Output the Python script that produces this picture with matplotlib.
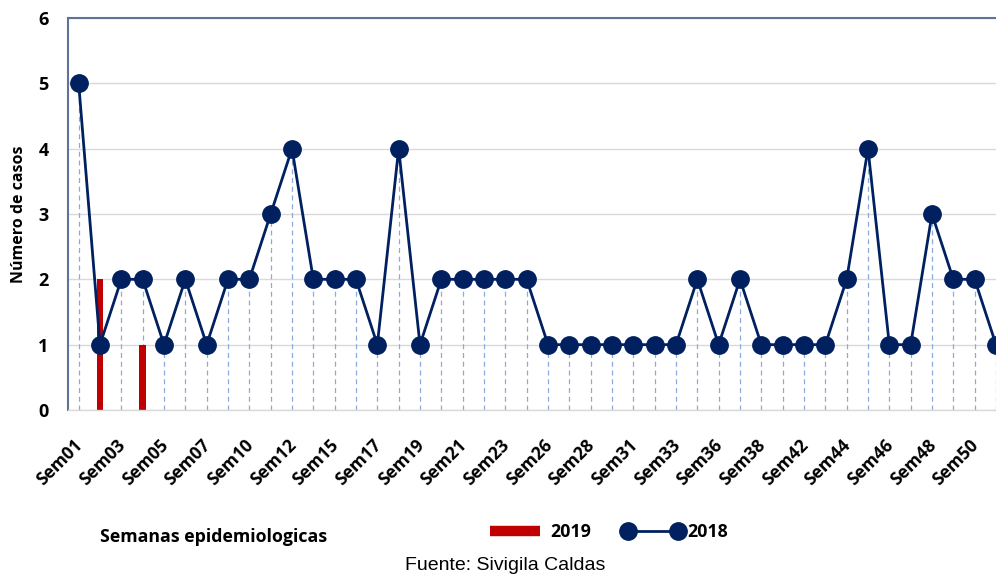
import matplotlib
matplotlib.use("Agg")
import matplotlib.pyplot as plt
import matplotlib.transforms as mtransforms
from matplotlib.lines import Line2D
import numpy as np

weeks = ["Sem01", "Sem02", "Sem03", "Sem04", "Sem05", "Sem06", "Sem07", "Sem08",
         "Sem10", "Sem11", "Sem12", "Sem13", "Sem15", "Sem16", "Sem17", "Sem18",
         "Sem19", "Sem20", "Sem21", "Sem22", "Sem23", "Sem24", "Sem26", "Sem27",
         "Sem28", "Sem29", "Sem31", "Sem32", "Sem33", "Sem34", "Sem36", "Sem37",
         "Sem38", "Sem40", "Sem42", "Sem43", "Sem44", "Sem45", "Sem46", "Sem47",
         "Sem48", "Sem49", "Sem50", "Sem51"]
cases_2018 = [5, 1, 2, 2, 1, 2, 1, 2, 2, 3, 4, 2, 2, 2, 1, 4, 1, 2, 2, 2, 2, 2,
              1, 1, 1, 1, 1, 1, 1, 2, 1, 2, 1, 1, 1, 1, 2, 4, 1, 1, 3, 2, 2, 1]
cases_2019 = [0, 2, 0, 1] + [0] * 40

navy = "#002060"
red = "#C00000"
frame = "#5F7399"

fig = plt.figure(figsize=(9.96, 5.77), dpi=100)
ax = fig.add_axes([68 / 996, 1 - 410 / 577, 1 - 68 / 996, (410 - 18) / 577])

x = np.arange(len(weeks))
ax.vlines(x, 0, cases_2018, colors="#8EA9DB", linestyles=(0, (4, 3)), linewidth=0.9, zorder=1)
ax.bar(x, cases_2019, width=0.3, color=red, zorder=2, label="2019")
ax.plot(x, cases_2018, color=navy, linewidth=2.0, marker="o", markersize=12.5,
        zorder=3, label="2018", clip_on=True)

ax.set_xlim(-0.5, len(weeks) - 1)
ax.set_ylim(0, 6)
ax.set_yticks(range(0, 7))
ax.yaxis.grid(True, color="#D9D9D9", linewidth=1.0)
ax.set_axisbelow(True)

ax.set_xticks(x[::2])
ax.set_xticklabels(weeks[::2], rotation=45, ha="right", rotation_mode="anchor",
                   fontsize=12.5, fontweight="bold", family="Open Sans")
ax.tick_params(axis="x", length=0, pad=19)
ax.tick_params(axis="y", length=0, pad=14)
offset = mtransforms.ScaledTranslation(-5 / 100, 0, fig.dpi_scale_trans)
for lab in ax.get_xticklabels():
    lab.set_transform(lab.get_transform() + offset)
for lab in ax.get_yticklabels():
    lab.set_fontsize(13)
    lab.set_fontweight("bold")
    lab.set_family("Open Sans")

ax.spines["right"].set_visible(False)
ax.spines["top"].set_color(frame)
ax.spines["top"].set_linewidth(1.5)
ax.spines["left"].set_color(frame)
ax.spines["left"].set_linewidth(1.5)
ax.spines["bottom"].set_color("#D9D9D9")
ax.spines["bottom"].set_linewidth(1.0)

ax.set_ylabel("Número de casos", fontsize=11.5, fontweight="bold", family="Open Sans", labelpad=8)

fig.text(100 / 996, 1 - 537 / 577, "Semanas epidemiologicas", fontsize=12.8,
         fontweight="bold", family="Open Sans", va="center", ha="left")

handles = [Line2D([0], [0], color=red, linewidth=7.5, solid_capstyle="butt"),
           Line2D([0], [0], color=navy, linewidth=2.0, marker="o", markersize=12.5)]
leg = fig.legend(handles, ["2019", "2018"], loc="center left",
                 bbox_to_anchor=(469 / 996, 1 - 532 / 577), ncol=2, frameon=False,
                 numpoints=2, handlelength=3.4, handletextpad=0.25, columnspacing=1.8,
                 prop={"family": "Open Sans", "weight": "bold", "size": 12.8})

fig.text(505 / 996, 1 - 565 / 577, "Fuente: Sivigila Caldas", fontsize=14,
         family="Liberation Sans", ha="center", va="center")

fig.savefig("out.png", dpi=100)
